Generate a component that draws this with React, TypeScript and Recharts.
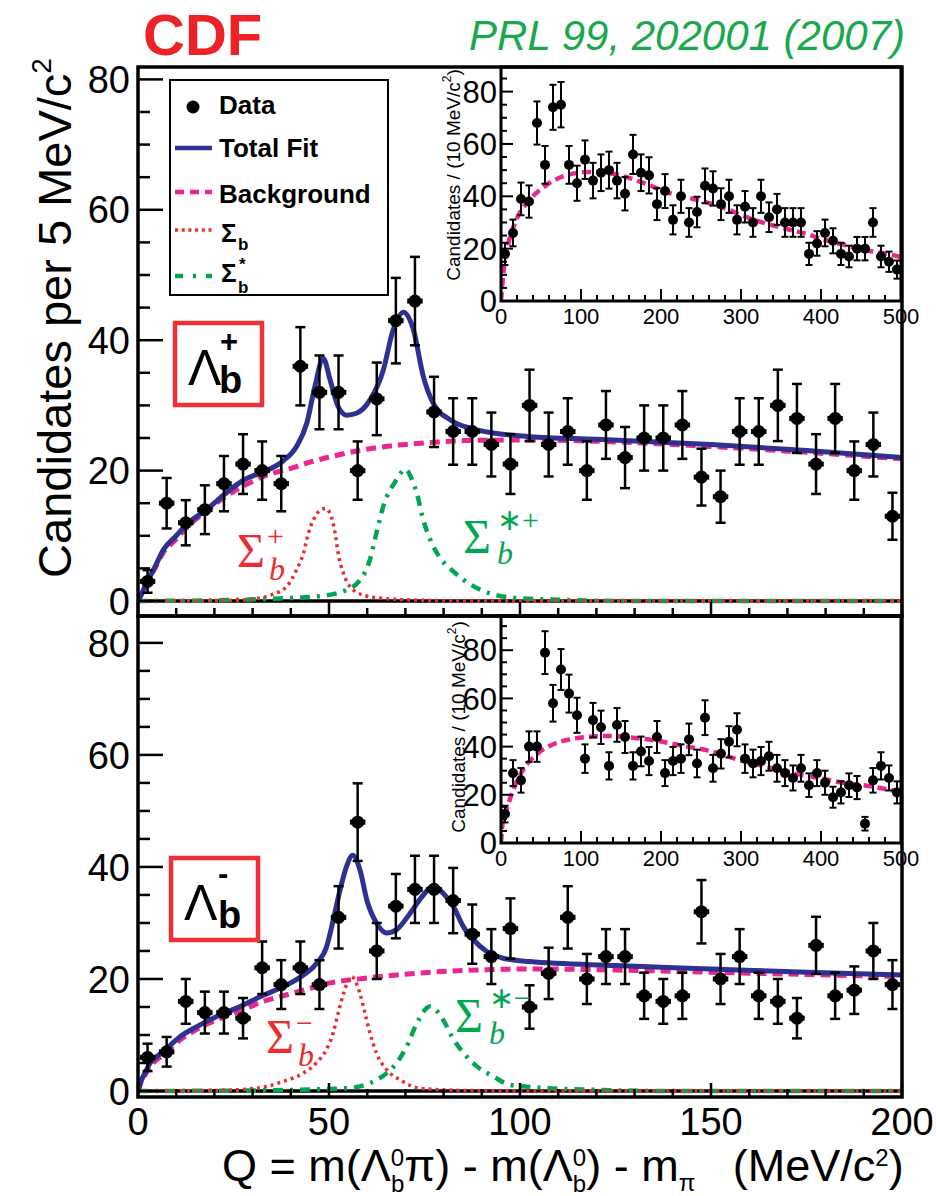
import React from "react";
import { ComposedChart, Line, Scatter, XAxis, YAxis, ErrorBar, ReferenceLine } from "recharts";

const PAGE_W = 936;
const PAGE_H = 1196;
const SANS = "'Liberation Sans', Arial, Helvetica, sans-serif";
const SERIF = "'Liberation Serif', 'Times New Roman', serif";

const FIT_BLUE = "#2e3192";
const BG_PINK = "#ec268f";
const SIG_RED = "#ee2b2e";
const STAR_GREEN = "#00a651";
const CDF_RED = "#ec2227";

type Curve = [number, number][];
type Box = { left: number; top: number; right: number; bottom: number };

// Q bin centres of the main panels (5 MeV/c^2 bins)
const qBins = [
  2.5, 7.5, 12.5, 17.5, 22.5, 27.5, 32.5, 37.5, 42.5, 47.5, 52.5, 57.5, 62.5, 67.5, 72.5, 77.5, 82.5, 87.5, 92.5, 97.5,
  102.5, 107.5, 112.5, 117.5, 122.5, 127.5, 132.5, 137.5, 142.5, 147.5, 152.5, 157.5, 162.5, 167.5, 172.5, 177.5, 182.5,
  187.5, 192.5, 197.5,
];
const countsPlus = [
  3, 15, 12, 14, 18, 21, 20, 18, 36, 32, 32, 20, 31, 43, 46, 29, 26, 26, 24, 21, 30, 24, 26, 20, 27, 22, 25, 25, 27, 19,
  16, 26, 26, 30, 28, 21, 28, 20, 24, 13,
];
const countsMinus = [
  6, 7, 16, 14, 14, 13, 22, 19, 22, 19, 31, 48, 25, 33, 36, 36, 34, 28, 24, 29, 15, 21, 31, 20, 24, 24, 17, 16, 17, 32,
  20, 24, 17, 16, 13, 26, 17, 18, 25, 19,
];

// wide-range insets (10 MeV/c^2 bins)
const wideBins = [
  5, 15, 25, 35, 45, 55, 65, 75, 85, 95, 105, 115, 125, 135, 145, 155, 165, 175, 185, 195, 205, 215, 225, 235, 245, 255,
  265, 275, 285, 295, 305, 315, 325, 335, 345, 355, 365, 375, 385, 395, 405, 415, 425, 435, 445, 455, 465, 475, 485, 495,
];
const wideCountsPlus = [
  18, 26, 39, 38, 68, 52, 74, 75, 52, 45, 54, 46, 49, 50, 46, 41, 56, 49, 48, 37, 42, 31, 40, 30, 34, 44, 43, 37, 40, 31,
  36, 30, 40, 32, 35, 30, 30, 30, 18, 22, 26, 23, 18, 17, 20, 20, 30, 17, 15, 12,
];
const wideCountsMinus = [
  12, 29, 26, 40, 40, 79, 58, 72, 62, 53, 35, 51, 48, 32, 49, 44, 32, 38, 34, 44, 29, 34, 35, 43, 33, 52, 31, 37, 42, 47,
  35, 33, 34, 36, 31, 29, 27, 31, 24, 29, 25, 19, 21, 24, 23, 8, 26, 32, 27, 21,
];

// fit projections, sampled as [Q, candidates per bin]
const fitPlus: Curve = [
  [0, 0], [1, 1.2], [2, 2.5], [3.1, 3.7], [4.5, 5.3], [6.6, 7.8], [10, 10], [13, 11.9], [17.9, 14], [22.9, 16.5],
  [27.8, 18.6], [32.8, 19.8], [37.8, 21.4], [41.5, 23.7], [44.2, 27.3], [46.3, 32.9], [48.5, 37.2], [50.3, 33.9],
  [52.4, 29.8], [54.6, 28.5], [57.2, 28.8], [60.7, 30.8], [64.2, 35.4], [66.8, 41.6], [69.5, 44.3], [72.1, 41.6],
  [74.7, 34.4], [77.3, 30.3], [81.7, 27.8], [86.9, 26.5], [93.9, 25.7], [102.6, 25.2], [120, 24.8], [150, 24],
  [175, 23.1], [200, 22],
];
const bgPlus: Curve = [
  [0, 0], [1, 1.1], [2, 2.4], [3.1, 3.6], [4.5, 5.1], [6.6, 7.4], [10, 9.5], [13, 11.4], [17.9, 13.8], [22.9, 16],
  [27.8, 17.7], [32.8, 19.1], [37.8, 20], [41.5, 20.6], [45, 21.3], [50.3, 22.1], [59, 23.2], [67.8, 23.9], [76.5, 24.3],
  [85.3, 24.6], [102.6, 24.7], [120, 24.5], [150, 23.7], [175, 22.8], [200, 21.8],
];
const sigPlus: Curve = [
  [0, 0], [25, 0.1], [30, 0.3], [34.6, 0.9], [38.9, 2.2], [41.5, 4.8], [43.3, 7.3], [44.6, 10.4], [45.9, 12.4],
  [47.6, 13.9], [49, 14.2], [50.3, 13.4], [51.6, 10.4], [52.4, 7.3], [53.8, 4.2], [55.5, 2.2], [59, 0.9], [64.2, 0.4],
  [75, 0.1], [90, 0], [200, 0],
];
const starPlus: Curve = [
  [0, 0], [20, 0.1], [37.2, 0.4], [46.9, 0.7], [53.8, 1.5], [58.1, 3.2], [60.7, 6.3], [62.4, 10.4], [64.2, 14.5],
  [67.7, 18.6], [69.9, 20.2], [72, 18.2], [73, 16.5], [74.7, 12.4], [76.5, 9.4], [79.1, 6.6], [82.6, 4.5], [85.3, 3.2],
  [90.5, 1.5], [98.3, 0.5], [110, 0.2], [130, 0], [200, 0],
];

const fitMinus: Curve = [
  [0, 0], [0.6, 1.4], [1.8, 3.2], [3.1, 4.9], [6.6, 7], [11, 9.7], [15.4, 11.5], [20.6, 13.3], [25.8, 14.8],
  [32.8, 17.1], [38, 18.6], [43.3, 20.7], [46.8, 22.8], [49.4, 25.8], [51.1, 30.5], [52.9, 35.9], [54.6, 40.1],
  [56.2, 42.1], [58.1, 39.5], [59.9, 34.1], [62.5, 29.9], [65.1, 28.2], [67.7, 28.8], [71.2, 31.7], [74.7, 35],
  [77.3, 36.6], [79.9, 35.3], [82.6, 32.9], [85.2, 29.3], [87.8, 27], [91.3, 24.9], [95.6, 23.7], [102.6, 23.1],
  [125, 22.4], [150, 21.8], [175, 21.2], [200, 20.7],
];
const bgMinus: Curve = [
  [0, 0], [0.6, 1.2], [1.8, 2.8], [3.1, 4.3], [6.6, 6.5], [11, 9.1], [15.4, 11], [20.6, 12.7], [25.8, 14], [32.8, 16],
  [38, 17], [43.3, 18], [50.3, 19.3], [59, 20.1], [67.7, 20.7], [76.5, 21.2], [85.2, 21.5], [93.9, 21.7], [102.6, 21.8],
  [125, 21.6], [150, 21.2], [175, 20.8], [200, 20.4],
];
const sigMinus: Curve = [
  [0, 0], [20, 0.1], [31.1, 0.5], [38, 1.7], [43.3, 3.2], [46.8, 5.1], [49.4, 7.5], [51.1, 10.4], [52.4, 13.9],
  [53.8, 17.4], [55.9, 20.4], [58.1, 17.4], [59.4, 13.9], [60.7, 10.4], [62.4, 6.8], [65.1, 3.8], [68.6, 2],
  [73.8, 0.5], [85, 0.1], [100, 0], [200, 0],
];
const starMinus: Curve = [
  [0, 0], [30, 0.1], [54.6, 0.5], [60.7, 1.4], [65.1, 3.2], [67.7, 5], [70.3, 7.9], [73, 12.1], [76.4, 15.1],
  [79.9, 12.7], [82.1, 9.8], [85.2, 6.8], [88.7, 4.4], [93, 2.6], [97.4, 1.1], [105, 0.6], [120, 0.2], [140, 0],
  [200, 0],
];

// background shapes of the wide-range insets
const wideBgPlus: Curve = [
  [0, 0], [1, 4], [2.9, 10.4], [8.3, 20.6], [18.8, 30.8], [35.4, 38.5], [56.3, 44.2], [81.3, 48], [110, 49.3],
  [131, 49], [156, 47.4], [181, 44.8], [206, 41.7], [231, 39.7], [256, 37.8], [281, 35.3], [306, 32.1], [331, 29.6],
  [356, 27.6], [381, 25.7], [406, 23.2], [431, 21.3], [456, 19.4], [481, 18.1], [500, 16.8],
];
const wideBgMinus: Curve = [
  [0, 0], [0.8, 4], [2, 8.3], [7, 13.9], [15.4, 22.2], [28, 30.6], [44.6, 36.8], [65.4, 41], [86, 43], [107, 44],
  [136, 44.4], [161, 43.8], [195, 42.4], [228, 40.3], [261, 38.2], [295, 34.7], [328, 31.9], [361, 29.2], [395, 27.1],
  [428, 25], [461, 23.6], [500, 21],
];

// axis ticks
const mainXTicks = [0, 10, 20, 30, 40, 50, 60, 70, 80, 90, 100, 110, 120, 130, 140, 150, 160, 170, 180, 190, 200];
const mainXLabels = [0, 50, 100, 150, 200];
const mainYTicks = [0, 5, 10, 15, 20, 25, 30, 35, 40, 45, 50, 55, 60, 65, 70, 75, 80];
const yLabels = [0, 20, 40, 60, 80];
const insetXTicks = [
  0, 20, 40, 60, 80, 100, 120, 140, 160, 180, 200, 220, 240, 260, 280, 300, 320, 340, 360, 380, 400, 420, 440, 460, 480,
  500,
];
const insetXLabels = [0, 100, 200, 300, 400, 500];
const insetYTicks = [0, 5, 10, 15, 20, 25, 30, 35, 40, 45, 50, 55, 60, 65, 70, 75, 80, 85, 90];

// plot rectangles in page pixels
const topBox: Box = { left: 138, top: 67, right: 902, bottom: 616 };
const botBox: Box = { left: 138, top: 616, right: 902, bottom: 1097 };
const topInsetBox: Box = { left: 501, top: 67, right: 901, bottom: 301 };
const botInsetBox: Box = { left: 501, top: 616, right: 901, bottom: 843 };

const Q_ERR = 1.7;

const chartMargin = (b: Box) => ({
  top: b.top,
  left: b.left - 1,
  right: PAGE_W - b.right,
  bottom: PAGE_H - b.bottom - 1,
});
const toPts = (c: Curve) => c.map(([x, y]) => ({ x, y }));

type TickOpts = { gap: number; majors: number[]; majorLen: number; minorLen: number; font: number; lw: number; labels?: boolean; labelDy?: number };

function yTick(o: TickOpts) {
  return (p: any) => {
    const v = Number(p.payload.value);
    const major = o.majors.includes(v);
    const ax = p.x + o.gap;
    return (
      <g>
        <line x1={ax} x2={ax + (major ? o.majorLen : o.minorLen)} y1={p.y} y2={p.y} stroke="#000" strokeWidth={o.lw} />
        {major && (
          <text x={p.x} y={p.y} dy="0.36em" textAnchor="end" fontSize={o.font} fontFamily={SANS} fill="#000">
            {v}
          </text>
        )}
      </g>
    );
  };
}

function xTick(o: TickOpts) {
  return (p: any) => {
    const v = Number(p.payload.value);
    const major = o.majors.includes(v);
    const ay = p.y - o.gap;
    return (
      <g>
        <line x1={p.x} x2={p.x} y1={ay} y2={ay - (major ? o.majorLen : o.minorLen)} stroke="#000" strokeWidth={o.lw} />
        {o.labels && major && (
          <text x={p.x} y={ay + (o.labelDy || 0)} textAnchor="middle" fontSize={o.font} fontFamily={SANS} fill="#000">
            {v}
          </text>
        )}
      </g>
    );
  };
}

const dot = (r: number) => (p: any) => <circle cx={p.cx} cy={p.cy} r={r} fill="#000" />;

function MainPanel(props: {
  box: Box;
  yDomain: [number, number];
  counts: number[];
  fit: Curve;
  bg: Curve;
  sig: Curve;
  star: Curve;
  xLabels: boolean;
}) {
  const pts = props.counts.map((n, i) => ({ x: qBins[i], y: n, ey: Math.sqrt(n), ex: Q_ERR }));
  return (
    <div style={{ position: "absolute", left: 0, top: 0 }}>
      <ComposedChart width={PAGE_W} height={PAGE_H} margin={chartMargin(props.box)}>
        <XAxis
          type="number"
          dataKey="x"
          domain={[0, 200]}
          allowDataOverflow
          ticks={mainXTicks}
          interval={0}
          height={1}
          tickSize={0}
          tickMargin={6}
          axisLine={false}
          tick={xTick({ gap: 6, majors: mainXLabels, majorLen: 14, minorLen: 8, font: 38, lw: 2.5, labels: props.xLabels, labelDy: 38 })}
        />
        <YAxis
          type="number"
          domain={props.yDomain}
          allowDataOverflow
          ticks={mainYTicks}
          interval={0}
          width={1}
          tickSize={0}
          tickMargin={8}
          axisLine={false}
          tick={yTick({ gap: 8, majors: yLabels, majorLen: 25, minorLen: 12, font: 38, lw: 2.5 })}
        />
        <ReferenceLine y={0} stroke="#000" strokeWidth={3.5} />
        <Line data={toPts(props.bg)} dataKey="y" type="monotone" stroke={BG_PINK} strokeWidth={5} strokeDasharray="10 6" dot={false} activeDot={false} isAnimationActive={false} />
        <Line data={toPts(props.star)} dataKey="y" type="monotone" stroke={STAR_GREEN} strokeWidth={4.5} strokeDasharray="10 7 3 7" dot={false} activeDot={false} isAnimationActive={false} />
        <Line data={toPts(props.sig)} dataKey="y" type="monotone" stroke={SIG_RED} strokeWidth={3.5} strokeDasharray="3 4" dot={false} activeDot={false} isAnimationActive={false} />
        <Line data={toPts(props.fit)} dataKey="y" type="monotone" stroke={FIT_BLUE} strokeWidth={5} dot={false} activeDot={false} isAnimationActive={false} />
        <Scatter data={pts} dataKey="y" shape={dot(6.5)} isAnimationActive={false}>
          <ErrorBar dataKey="ey" direction="y" width={5} stroke="#000" strokeWidth={2.5} />
          <ErrorBar dataKey="ex" direction="x" width={2.5} stroke="#000" strokeWidth={2.5} />
        </Scatter>
      </ComposedChart>
    </div>
  );
}

function InsetPanel(props: { box: Box; yMax: number; counts: number[]; bg: Curve }) {
  const pts = props.counts.map((n, i) => ({ x: wideBins[i], y: n, ey: Math.sqrt(n) }));
  return (
    <div style={{ position: "absolute", left: 0, top: 0 }}>
      <ComposedChart width={PAGE_W} height={PAGE_H} margin={chartMargin(props.box)}>
        <XAxis
          type="number"
          dataKey="x"
          domain={[0, 500]}
          allowDataOverflow
          ticks={insetXTicks}
          interval={0}
          height={1}
          tickSize={0}
          tickMargin={4}
          axisLine={false}
          tick={xTick({ gap: 4, majors: insetXLabels, majorLen: 12, minorLen: 6, font: 22, lw: 2, labels: true, labelDy: 23 })}
        />
        <YAxis
          type="number"
          domain={[0, props.yMax]}
          allowDataOverflow
          ticks={insetYTicks.filter((t) => t < props.yMax)}
          interval={0}
          width={1}
          tickSize={0}
          tickMargin={4}
          axisLine={false}
          tick={yTick({ gap: 4, majors: yLabels, majorLen: 12, minorLen: 6, font: 31, lw: 2 })}
        />
        <Line data={toPts(props.bg)} dataKey="y" type="monotone" stroke={BG_PINK} strokeWidth={4.5} strokeDasharray="9 5" dot={false} activeDot={false} isAnimationActive={false} />
        <Scatter data={pts} dataKey="y" shape={dot(5)} isAnimationActive={false}>
          <ErrorBar dataKey="ey" direction="y" width={3.5} stroke="#000" strokeWidth={2} />
        </Scatter>
      </ComposedChart>
    </div>
  );
}

function Frame({ b, w }: { b: Box; w: number }) {
  return <rect x={b.left} y={b.top} width={b.right - b.left} height={b.bottom - b.top} fill="none" stroke="#000" strokeWidth={w} />;
}

export default function App() {
  return (
    <div style={{ position: "absolute", left: 0, top: 0, width: PAGE_W, height: PAGE_H, background: "#fff" }}>
      <MainPanel box={topBox} yDomain={[-2.3, 81.9]} counts={countsPlus} fit={fitPlus} bg={bgPlus} sig={sigPlus} star={starPlus} xLabels={false} />
      <MainPanel box={botBox} yDomain={[-1.07, 84.8]} counts={countsMinus} fit={fitMinus} bg={bgMinus} sig={sigMinus} star={starMinus} xLabels />
      <InsetPanel box={topInsetBox} yMax={89.4} counts={wideCountsPlus} bg={wideBgPlus} />
      <InsetPanel box={botInsetBox} yMax={94.2} counts={wideCountsMinus} bg={wideBgMinus} />

      <svg width={PAGE_W} height={PAGE_H} style={{ position: "absolute", left: 0, top: 0, pointerEvents: "none" }}>
        <Frame b={topBox} w={3.5} />
        <Frame b={botBox} w={3.5} />
        <Frame b={topInsetBox} w={3} />
        <Frame b={botInsetBox} w={3} />

        <text x={143} y={55} fontFamily={SANS} fontWeight="bold" fontSize={58} fill={CDF_RED}>CDF</text>
        <text x={905} y={50} textAnchor="end" fontFamily={SANS} fontStyle="italic" fontSize={42} fill="#1aa84c">
          PRL 99, 202001 (2007)
        </text>

        {/* axis titles */}
        <text transform="translate(71, 318) rotate(-90)" textAnchor="middle" fontFamily={SANS} fontSize={47}>
          Candidates per 5 MeV/c<tspan dy={-20} fontSize={28}>2</tspan>
        </text>
        <text x={222} y={1181} fontFamily={SANS} fontSize={45} style={{ whiteSpace: "pre" }}>
          Q = m(Λ<tspan dy={-15} fontSize={24}>0</tspan>
          <tspan dx={-13.3} dy={26} fontSize={24}>b</tspan>
          <tspan dy={-11}>π) - m(Λ</tspan>
          <tspan dy={-15} fontSize={24}>0</tspan>
          <tspan dx={-13.3} dy={26} fontSize={24}>b</tspan>
          <tspan dy={-11}>) - m</tspan>
          <tspan dy={10} fontSize={24}>π</tspan>
          <tspan dy={-10}>{"   (MeV/c"}</tspan>
          <tspan dy={-15} fontSize={24}>2</tspan>
          <tspan dy={15}>)</tspan>
        </text>
        <text transform="translate(460, 175) rotate(-90)" textAnchor="middle" fontFamily={SANS} fontSize={19}>
          Candidates / (10 MeV/c<tspan dy={-9} fontSize={12}>2</tspan>
          <tspan dy={9}>)</tspan>
        </text>
        <text transform="translate(465, 727) rotate(-90)" textAnchor="middle" fontFamily={SANS} fontSize={19}>
          Candidates / (10 MeV/c<tspan dy={-9} fontSize={12}>2</tspan>
          <tspan dy={9}>)</tspan>
        </text>

        {/* legend */}
        <rect x={170} y={80} width={218} height={215} fill="#fff" stroke="#000" strokeWidth={2} />
        <circle cx={193} cy={107} r={6.5} fill="#000" />
        <line x1={175} x2={212} y1={148} y2={148} stroke={FIT_BLUE} strokeWidth={4.5} />
        <line x1={175} x2={212} y1={192} y2={192} stroke={BG_PINK} strokeWidth={4.5} strokeDasharray="9 6" />
        <line x1={175} x2={212} y1={230} y2={230} stroke={SIG_RED} strokeWidth={3.5} strokeDasharray="3 3.7" />
        <line x1={175} x2={212} y1={276} y2={276} stroke={STAR_GREEN} strokeWidth={4.5} strokeDasharray="8 10 3 10" />
        <g fontFamily={SANS} fontWeight="bold" fontSize={26}>
          <text x={219} y={114}>Data</text>
          <text x={219} y={157}>Total Fit</text>
          <text x={219} y={203}>Background</text>
          <text x={221} y={242}>Σ</text>
          <text x={238} y={250} fontSize={17}>b</text>
          <text x={221} y={282}>Σ</text>
          <text x={239} y={270} fontSize={17}>*</text>
          <text x={238} y={293} fontSize={17}>b</text>
        </g>

        {/* charge labels */}
        <rect x={175} y={323} width={87} height={82} fill="none" stroke="#ec3237" strokeWidth={4.5} />
        <g fontFamily={SANS} fill="#000">
          <text x={188} y={385} fontSize={50}>Λ</text>
          <text x={220} y={352} fontSize={31} fontWeight="bold">+</text>
          <text x={219} y={393} fontSize={38} fontWeight="bold">b</text>
        </g>
        <rect x={171} y={858} width={87} height={82} fill="none" stroke="#ec3237" strokeWidth={4.5} />
        <g fontFamily={SANS} fill="#000">
          <text x={184} y={920} fontSize={50}>Λ</text>
          <text x={218} y={884} fontSize={31} fontWeight="bold">-</text>
          <text x={218} y={928} fontSize={38} fontWeight="bold">b</text>
        </g>

        {/* component labels */}
        <g fontFamily={SERIF} fill={SIG_RED}>
          <text x={237} y={567} fontSize={48}>Σ</text>
          <text x={267} y={546} fontSize={30}>+</text>
          <text x={269} y={580} fontSize={32} fontStyle="italic">b</text>
          <text x={266} y={1053} fontSize={48}>Σ</text>
          <text x={296} y={1033} fontSize={30}>−</text>
          <text x={298} y={1066} fontSize={32} fontStyle="italic">b</text>
        </g>
        <g fontFamily={SERIF} fill={STAR_GREEN}>
          <text x={463} y={553} fontSize={48}>Σ</text>
          <text x={497} y={530} fontSize={30}>∗+</text>
          <text x={497} y={564} fontSize={32} fontStyle="italic">b</text>
          <text x={455} y={1032} fontSize={48}>Σ</text>
          <text x={489} y={1008} fontSize={30}>∗−</text>
          <text x={489} y={1044} fontSize={32} fontStyle="italic">b</text>
        </g>
      </svg>
    </div>
  );
}
